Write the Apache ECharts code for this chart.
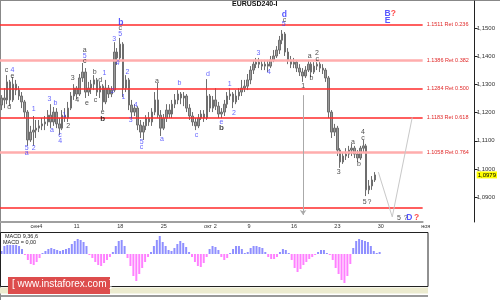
<!DOCTYPE html>
<html><head><meta charset="utf-8">
<script src="https://cdn.jsdelivr.net/npm/echarts@6/dist/echarts.min.js"></script>
<style>html,body{margin:0;padding:0;background:#fff}#c{width:500px;height:300px}</style>
</head><body><div id="c"></div>
<script>
// ---- data (EURUSD, 8-hour bars) ----
const opens=[1.1227,1.1252,1.1245,1.1309,1.1245,1.1301,1.1280,1.1259,1.1238,1.1202,1.1103,1.1131,1.1138,1.1145,1.1153,1.1160,1.1167,1.1191,1.1167,1.1202,1.1160,1.1145,1.1191,1.1181,1.1216,1.1259,1.1287,1.1266,1.1323,1.1344,1.1273,1.1287,1.1301,1.1316,1.1273,1.1294,1.1238,1.1287,1.1266,1.1280,1.1415,1.1394,1.1443,1.1287,1.1316,1.1227,1.1202,1.1216,1.1156,1.1131,1.1153,1.1181,1.1167,1.1202,1.1245,1.1191,1.1145,1.1181,1.1209,1.1195,1.1230,1.1245,1.1266,1.1252,1.1259,1.1216,1.1188,1.1167,1.1153,1.1181,1.1195,1.1181,1.1259,1.1216,1.1245,1.1223,1.1195,1.1202,1.1230,1.1259,1.1266,1.1238,1.1259,1.1273,1.1287,1.1294,1.1316,1.1351,1.1372,1.1379,1.1372,1.1365,1.1372,1.1365,1.1387,1.1401,1.1422,1.1457,1.1479,1.1415,1.1387,1.1372,1.1379,1.1358,1.1344,1.1330,1.1351,1.1372,1.1344,1.1365,1.1372,1.1358,1.1351,1.1323,1.1202,1.1131,1.1145,1.1067,1.1025,1.1046,1.1053,1.1067,1.1074,1.1053,1.1039,1.1074,1.1082,1.0926,1.0940,1.0961];
const closes=[1.1252,1.1245,1.1309,1.1245,1.1301,1.1280,1.1259,1.1238,1.1202,1.1103,1.1131,1.1138,1.1145,1.1153,1.1160,1.1167,1.1191,1.1167,1.1202,1.1160,1.1145,1.1191,1.1181,1.1216,1.1259,1.1287,1.1266,1.1323,1.1344,1.1273,1.1287,1.1301,1.1316,1.1273,1.1294,1.1238,1.1287,1.1266,1.1280,1.1415,1.1394,1.1443,1.1287,1.1316,1.1227,1.1202,1.1216,1.1156,1.1131,1.1153,1.1181,1.1167,1.1202,1.1245,1.1191,1.1145,1.1181,1.1209,1.1195,1.1230,1.1245,1.1266,1.1252,1.1259,1.1216,1.1188,1.1167,1.1153,1.1181,1.1195,1.1181,1.1259,1.1216,1.1245,1.1223,1.1195,1.1202,1.1230,1.1259,1.1266,1.1238,1.1259,1.1273,1.1287,1.1294,1.1316,1.1351,1.1372,1.1379,1.1372,1.1365,1.1372,1.1365,1.1387,1.1401,1.1422,1.1457,1.1479,1.1415,1.1387,1.1372,1.1379,1.1358,1.1344,1.1330,1.1351,1.1372,1.1344,1.1365,1.1372,1.1358,1.1351,1.1323,1.1202,1.1131,1.1145,1.1067,1.1025,1.1046,1.1053,1.1067,1.1074,1.1053,1.1039,1.1074,1.1082,1.0926,1.0940,1.0961,1.0979];
const lows=[1.1209,1.1216,1.1230,1.1223,1.1238,1.1262,1.1245,1.1216,1.1181,1.1082,1.1096,1.1082,1.1110,1.1131,1.1138,1.1138,1.1153,1.1145,1.1153,1.1145,1.1121,1.1138,1.1167,1.1167,1.1209,1.1245,1.1248,1.1259,1.1309,1.1252,1.1259,1.1266,1.1280,1.1259,1.1252,1.1209,1.1230,1.1252,1.1255,1.1273,1.1369,1.1379,1.1255,1.1273,1.1209,1.1181,1.1188,1.1138,1.1110,1.1103,1.1138,1.1153,1.1153,1.1191,1.1181,1.1117,1.1138,1.1167,1.1181,1.1181,1.1216,1.1230,1.1230,1.1223,1.1202,1.1174,1.1153,1.1138,1.1145,1.1174,1.1167,1.1174,1.1202,1.1202,1.1209,1.1181,1.1181,1.1188,1.1216,1.1245,1.1216,1.1230,1.1245,1.1259,1.1273,1.1280,1.1301,1.1337,1.1358,1.1358,1.1351,1.1351,1.1344,1.1358,1.1379,1.1394,1.1408,1.1443,1.1401,1.1372,1.1358,1.1358,1.1344,1.1330,1.1309,1.1323,1.1344,1.1326,1.1337,1.1351,1.1344,1.1337,1.1309,1.1181,1.1110,1.1117,1.1046,1.1004,1.1018,1.1032,1.1039,1.1046,1.1039,1.1025,1.1032,1.1060,1.0904,1.0911,1.0926,1.0954];
const highs=[1.1262,1.1287,1.1333,1.1316,1.1326,1.1316,1.1294,1.1273,1.1245,1.1209,1.1153,1.1188,1.1174,1.1174,1.1181,1.1188,1.1209,1.1230,1.1220,1.1216,1.1181,1.1209,1.1216,1.1238,1.1273,1.1301,1.1294,1.1337,1.1376,1.1358,1.1309,1.1316,1.1333,1.1323,1.1309,1.1301,1.1316,1.1298,1.1294,1.1450,1.1429,1.1465,1.1450,1.1333,1.1323,1.1245,1.1230,1.1223,1.1174,1.1167,1.1191,1.1202,1.1216,1.1273,1.1305,1.1209,1.1195,1.1230,1.1230,1.1245,1.1266,1.1280,1.1273,1.1273,1.1266,1.1230,1.1202,1.1181,1.1195,1.1209,1.1209,1.1319,1.1266,1.1259,1.1287,1.1238,1.1216,1.1245,1.1273,1.1287,1.1273,1.1280,1.1287,1.1316,1.1316,1.1337,1.1365,1.1387,1.1394,1.1394,1.1387,1.1387,1.1387,1.1401,1.1422,1.1436,1.1472,1.1493,1.1486,1.1429,1.1401,1.1394,1.1387,1.1372,1.1358,1.1365,1.1387,1.1379,1.1379,1.1379,1.1379,1.1372,1.1358,1.1330,1.1209,1.1160,1.1153,1.1074,1.1060,1.1074,1.1082,1.1089,1.1082,1.1067,1.1082,1.1103,1.1089,1.0961,1.0975,1.0989];
const macdHist=[0.0003,0.0008,0.0009,0.0009,0.0009,0.0009,0.0008,0.0005,-0.0001,-0.0006,-0.0010,-0.0011,-0.0008,-0.0004,0.0001,0.0003,0.0005,0.0006,0.0005,0.0004,0.0003,0.0004,0.0005,0.0006,0.0010,0.0013,0.0015,0.0014,0.0012,0.0008,-0.0001,-0.0004,-0.0008,-0.0011,-0.0012,-0.0009,-0.0006,-0.0003,0.0002,0.0008,0.0013,0.0014,0.0008,-0.0004,-0.0012,-0.0022,-0.0027,-0.0020,-0.0014,-0.0008,-0.0003,0.0002,0.0008,0.0014,0.0018,0.0012,0.0008,0.0004,0.0003,0.0006,0.0010,0.0013,0.0011,0.0007,0.0002,-0.0003,-0.0008,-0.0012,-0.0013,-0.0009,-0.0003,0.0005,0.0008,0.0007,0.0004,-0.0003,-0.0006,-0.0004,0.0001,0.0005,0.0008,0.0008,0.0005,0.0001,0.0002,0.0006,0.0008,0.0008,0.0007,0.0006,0.0002,-0.0003,-0.0005,-0.0005,-0.0003,0.0002,0.0005,0.0004,0.0001,-0.0006,-0.0014,-0.0018,-0.0015,-0.0011,-0.0008,-0.0005,-0.0003,-0.0001,0.0002,0.0004,0.0004,0.0001,-0.0001,-0.0006,-0.0014,-0.0020,-0.0026,-0.0029,-0.0022,-0.0010,0.0006,0.0013,0.0015,0.0014,0.0013,0.0012,0.0008,0.0003,0.0001,0.0002];
const slotCount=146;            // bar slots incl. empty future space
const weekLabels=['сен4','11','18','25','окт 2','9','16','23','30','ноя'];
const firstWeekSlot=10, slotsPerWeek=15;
const priceTicks=[1.09,1.10,1.11,1.12,1.13,1.14,1.15];
const lastPrice=1.0979;
const fibLevels=[1.1511,1.1386,1.1284,1.1183,1.1058];
const fibTexts=['1.1511 Ret 0.236','1.1386 Ret 0.382','1.1284 Ret 0.500','1.1183 Ret 0.618','1.1058 Ret 0.764'];
const fibWide=[false,true,false,false,true];
const plainRedLevel=1.0862;
const targetLevel=1.0809, targetText='1.0809 Расш 2.618', targetFromSlot=104.2;
const arrowFrom=[104.2,1.1262], arrowTo=[104.2,1.0837];
const projPath=[[130.2,1.0989],[135.0,1.0830],[141.9,1.1183]];
const blueLabels=[[3.82,1.1351,'4'],[16.62,1.1248,'3'],[18.66,1.1234,'b'],[11.17,1.1213,'1'],[21.73,1.1191,'1'],[17.44,1.1138,'a'],[20.26,1.1121,'c'],[20.26,1.1099,'4'],[8.69,1.1074,'5'],[11.17,1.1074,'2'],[8.69,1.1057,'a'],[28.77,1.1401,'5'],[35.58,1.1340,'1'],[38.40,1.1277,'2'],[38.98,1.1461,'3'],[40.11,1.1376,'4'],[41.02,1.1479,'5'],[43.51,1.1344,'2'],[42.15,1.1255,'1'],[46.37,1.1227,'4'],[44.67,1.1174,'3'],[48.41,1.1096,'5'],[48.41,1.1078,'c'],[55.42,1.1106,'a'],[61.45,1.1305,'b'],[67.34,1.1121,'c'],[71.32,1.1337,'d'],[76.03,1.1167,'e'],[78.88,1.1301,'1'],[80.35,1.1199,'2'],[88.75,1.1411,'3'],[92.40,1.1344,'4'],[97.5,1.1514,'5']];
const blackLabels=[[1.78,1.1351,'c'],[3.82,1.1330,'e'],[2.67,1.1220,'d'],[23.09,1.1153,'2'],[24.59,1.1323,'3'],[26.15,1.1245,'4'],[28.77,1.1422,'a'],[28.77,1.1383,'c'],[32.18,1.1344,'b'],[34.12,1.1316,'d'],[29.55,1.1234,'e'],[32.52,1.1245,'c'],[41.02,1.1500,'c'],[35.00,1.1202,'e'],[53.72,1.1312,'a'],[97.74,1.1528,'c'],[106.48,1.1401,'a'],[108.99,1.1412,'2'],[109.10,1.1390,'c'],[107.06,1.1323,'b'],[104.23,1.1294,'1'],[116.49,1.0989,'3'],[121.46,1.1096,'a'],[123.50,1.1018,'b'],[124.86,1.1132,'4'],[124.86,1.1111,'c'],[125.44,1.0883,'5'],[127.14,1.0883,'?'],[137.35,1.0827,'5'],[139.63,1.0827,'?']];
const boldBlackLabels=[[35.00,1.1177,'b'],[76.03,1.1145,'b']];
const bigBlueLabels=[[41.26,1.1519,'b'],[97.74,1.1546,'d'],[133.37,1.1552,'B'],[133.37,1.1526,'E'],[140.86,1.0827,'D']];
const redLabels=[[135.41,1.1552,'?'],[143.38,1.0827,'?']];

// ---- build ----
const cats=[];for(let i=0;i<slotCount;i++)cats.push(String(i));
const isWeek=i=>i>=firstWeekSlot&&(i-firstWeekSlot)%slotsPerWeek===0;
const weekName=i=>weekLabels[(i-firstWeekSlot)/slotsPerWeek]||'';
const ohlc=opens.map((o,i)=>[o,closes[i],lows[i],highs[i]]);
const fmt=v=>v.toFixed(4).replace('.',',');
const FONT='Liberation Sans';
const XMIN=-0.5, XMAX=slotCount-0.5;
function labelSeries(arr,color,size,weight){
  return {type:'scatter',xAxisIndex:1,yAxisIndex:0,symbol:'circle',symbolSize:1,silent:true,
    itemStyle:{color:'rgba(0,0,0,0)'},
    data:arr.map(d=>({value:[d[0],d[1]],name:d[2]})),
    label:{show:true,position:'inside',formatter:p=>p.name,color:color,fontSize:size,fontWeight:weight,fontFamily:FONT},
    labelLayout:{hideOverlap:false},z:5};
}
const RED='#ff2a2a', PINK='#ffadad';
function seg(a,b,ls,lab){return [{coord:a,lineStyle:ls,label:lab||{show:false}},{coord:b}];}
const markData=[];
fibLevels.forEach((v,k)=>markData.push(seg([XMIN,v],[XMAX,v],
  {color:fibWide[k]?PINK:RED,width:fibWide[k]?2.5:1.5,type:'solid'},
  {show:true,position:'end',formatter:fibTexts[k],color:'#e02828',fontSize:5.5,fontFamily:FONT,distance:4})));
markData.push(seg([XMIN,plainRedLevel],[XMAX,plainRedLevel],{color:RED,width:1.5,type:'solid'}));
markData.push(seg([targetFromSlot,targetLevel],[XMAX,targetLevel],{color:'#b4b4b4',width:1,type:'solid'},
  {show:true,position:'end',formatter:targetText,color:'#999',fontSize:5.5,fontFamily:FONT,distance:4}));
markData.push([{coord:arrowFrom,symbol:'none',lineStyle:{color:'#aaaaaa',width:1,type:'solid'},label:{show:false}},
               {coord:arrowTo,symbol:'arrow',symbolSize:5}]);
markData.push(seg(projPath[0],projPath[1],{color:'#c8c8c8',width:1,type:'solid'}));
markData.push(seg(projPath[1],projPath[2],{color:'#c8c8c8',width:1,type:'solid'}));

const chart=echarts.init(document.getElementById('c'),null,{renderer:'canvas'});
chart.setOption({
  animation:false,backgroundColor:'#fff',
  grid:[{left:-1,right:72,top:1,height:221},{left:-1,right:72,top:233,height:53}],
  xAxis:[
    {type:'category',gridIndex:0,data:cats,boundaryGap:true,
      axisLine:{onZero:false,lineStyle:{color:'#a0a0a0',width:2}},
      axisTick:{interval:(i)=>isWeek(i),alignWithLabel:true,length:3,lineStyle:{color:'#333'}},
      axisLabel:{interval:(i)=>isWeek(i),formatter:(v,i)=>weekName(i),align:'left',margin:1,fontSize:5.5,color:'#333',fontFamily:FONT},
      splitLine:{show:false}},
    {type:'value',gridIndex:0,min:XMIN,max:XMAX,show:false},
    {type:'category',gridIndex:1,data:cats,boundaryGap:true,show:false}
  ],
  yAxis:[
    {type:'value',gridIndex:0,position:'right',offset:52,min:1.0812,max:1.1596,scale:true,
      axisLine:{show:true,onZero:false,lineStyle:{color:'#222',width:1}},
      axisTick:{show:true,customValues:priceTicks,length:3,lineStyle:{color:'#222'}},
      axisLabel:{customValues:priceTicks.concat([lastPrice]),margin:2,fontSize:6,color:'#333',fontFamily:FONT,
        formatter:v=>Math.abs(v-lastPrice)<1e-6?'{hl|'+fmt(v)+'}':fmt(v),
        rich:{hl:{backgroundColor:'#ffff00',color:'#000',fontSize:6,fontFamily:FONT,padding:[1,1,0,1]}}},
      splitLine:{show:false}},
    {type:'value',gridIndex:1,min:-0.0032,max:0.0021,show:false}
  ],
  series:[
    {type:'scatter',xAxisIndex:1,yAxisIndex:0,data:[],silent:true,z:1,
      markLine:{silent:true,precision:6,symbol:['none','none'],animation:false,data:markData}},
    {type:'candlestick',xAxisIndex:0,yAxisIndex:0,data:ohlc,barWidth:2,silent:true,z:2,
      itemStyle:{color:'#9a9a9a',color0:'#9a9a9a',borderColor:'#6e6e6e',borderColor0:'#6e6e6e',borderWidth:1}},
    labelSeries(blueLabels,'#3c3cff',7,'normal'),
    labelSeries(blackLabels,'#1a1a1a',7,'normal'),
    labelSeries(boldBlackLabels,'#111',8,'bold'),
    labelSeries(bigBlueLabels,'#2e2eff',8.5,'bold'),
    labelSeries(redLabels,'#ff2020',8.5,'bold'),
    {type:'bar',xAxisIndex:2,yAxisIndex:1,barWidth:2,silent:true,
      data:macdHist.map(v=>({value:v,itemStyle:{color:v>=0?'#8f8fff':'#ff80ff'}}))}
  ],
  graphic:[
    {type:'text',left:232,top:1,style:{text:'EURUSD240-I',fontSize:7,fontWeight:'bold',fill:'#111',fontFamily:FONT}},
    {type:'rect',shape:{x:0.5,y:232.5,width:427.5,height:54},style:{fill:'none',stroke:'#222',lineWidth:1},z:10},
    {type:'text',left:5,top:233,style:{text:'MACD 9,36,6',fontSize:5.5,fill:'#222',fontFamily:FONT}},
    {type:'text',left:3,top:239,style:{text:'MACD = 0,00',fontSize:5.5,fill:'#222',fontFamily:FONT}},
    {type:'rect',shape:{x:0,y:287.5,width:428,height:6},style:{fill:'#ecebcf'},z:1},
    {type:'line',shape:{x1:0,y1:296,x2:428,y2:296},style:{stroke:'#777',lineWidth:1.5}},
    {type:'line',shape:{x1:0,y1:0.5,x2:500,y2:0.5},style:{stroke:'#888',lineWidth:1}},
    {type:'line',shape:{x1:0.5,y1:0,x2:0.5,y2:300},style:{stroke:'#888',lineWidth:1}},
    {type:'rect',shape:{x:8,y:277,width:102,height:17},style:{fill:'#dd4d4d'},z:20},
    {type:'text',left:12,top:279,style:{text:'[ www.instaforex.com ]',fontSize:10,fill:'#fff',fontFamily:FONT},z:21}
  ]
});
</script></body></html>
